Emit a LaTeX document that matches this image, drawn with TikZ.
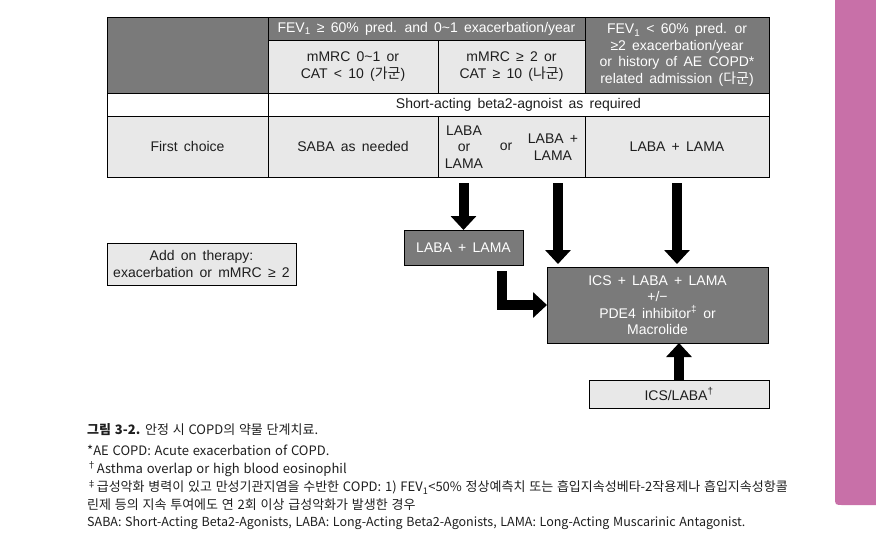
\documentclass[tikz,border=0pt]{standalone}
\usepackage{fontspec}
\setmainfont{Liberation Sans}[WordSpace=1.6]
\newfontfamily\kr{Noto Sans CJK KR}[WordSpace=1.3]
\usetikzlibrary{arrows.meta,calc,positioning}

\definecolor{cellgrey}{RGB}{122,122,122}
\definecolor{celllight}{RGB}{232,232,232}
\definecolor{sidebar}{RGB}{200,112,168}
\definecolor{textgrey}{RGB}{30,30,30}

\newcommand\tabfont{\fontsize{14}{16.5}\selectfont}
\newcommand\capfont{\kr\fontsize{13}{15}\selectfont}

\tikzset{
  cellbox/.style={draw=black, line width=0.9pt, inner sep=0pt, outer sep=0pt,
    align=center, anchor=north west, font=\tabfont},
  darkbox/.style={cellbox, fill=cellgrey, text=white},
  lightbox/.style={cellbox, fill=celllight, text=textgrey},
  whitebox/.style={cellbox, fill=white, text=textgrey},
  celltext/.style={inner sep=0pt, align=center, font=\tabfont, text=textgrey},
  bigarrow/.style={line width=10pt, -{Triangle[length=14pt,width=25pt]}},
  captext/.style={anchor=west, inner sep=0pt, font=\capfont, text=textgrey}
}

\begin{document}
\begin{tikzpicture}[x=1pt,y=-1pt]
\useasboundingbox (0,0) rectangle (876,558);

%Side bar
\fill[sidebar] (876,0) -- (835,0) -- (835,497) .. controls (835,505) .. (843,505) -- (876,505) -- cycle;

%Table columns and rows
\def\ca{107}
\def\cb{268}
\def\cc{438}
\def\cd{585}
\def\ra{17}
\def\rb{40}
\def\rc{93}
\def\rd{116}

%Header cells
\node[darkbox, minimum width=161pt, minimum height=76pt] (head) at (\ca,\ra) {};
\node[darkbox, minimum width=317pt, minimum height=23pt] (fevhi) at (\cb,\ra)
  {FEV\textsubscript{1} ≥ 60\% pred. and 0\textasciitilde1 exacerbation/year};
\node[darkbox, minimum width=184pt, minimum height=76pt] (fevlo) at (\cd,\ra)
  {FEV\textsubscript{1} < 60\% pred. or\\≥2 exacerbation/year\\or history of AE COPD*\\related admission ({\kr 다군})};
\node[lightbox, minimum width=170pt, minimum height=53pt] (grpa) at (\cb,\rb)
  {mMRC 0\textasciitilde1 or\\CAT < 10 ({\kr 가군})};
\node[lightbox, minimum width=147pt, minimum height=53pt] (grpb) at (\cc,\rb)
  {mMRC ≥ 2 or\\CAT ≥ 10 ({\kr 나군})};

%Rescue row
\node[whitebox, minimum width=161pt, minimum height=23pt] (blank) at (\ca,\rc) {};
\node[whitebox, minimum width=501pt, minimum height=23pt] (saba) at (\cb,\rc)
  {Short-acting beta2-agnoist as required};

%First choice row
\node[lightbox, minimum width=161pt, minimum height=61pt] (first) at (\ca,\rd) {First choice};
\node[lightbox, minimum width=170pt, minimum height=61pt] (ch2) at (\cb,\rd) {SABA as needed};
\node[lightbox, minimum width=147pt, minimum height=61pt] (ch3) at (\cc,\rd) {};
\node[lightbox, minimum width=184pt, minimum height=61pt] (ch4) at (\cd,\rd) {LABA + LAMA};
\node[celltext] (laorla) at (464,147) {LABA\\or\\LAMA};
\node[celltext] (orword) at (506,147) {or};
\node[celltext] (lpl) at (553,147) {LABA +\\LAMA};

%Lower boxes
\node[lightbox, minimum width=189pt, minimum height=42pt] (addon) at (107,243)
  {Add on therapy:\\exacerbation or mMRC ≥ 2};
\node[darkbox, minimum width=119pt, minimum height=35pt] (lam) at (404,230) {LABA + LAMA};
\node[darkbox, minimum width=221pt, minimum height=76pt] (ics) at (547,267)
  {ICS + LABA + LAMA\\+/−\\PDE4 inhibitor\textsuperscript{‡} or\\Macrolide};
\node[lightbox, minimum width=180pt, minimum height=28pt] (icsl) at (589,380)
  {ICS/LABA\textsuperscript{†}};

%Arrows
\draw[bigarrow] ($(lam.north |- ch3.south)+(0,6)$) -- (lam.north);
\draw[bigarrow] ($(lpl.south |- ch3.south)+(5,6)$) -- ($(lpl.south |- ics.north)+(5,-3)$);
\draw[bigarrow] ($(ch4.south)+(0,6)$) -- ($(ch4.south |- ics.north)+(0,-3)$);
\draw[bigarrow] ($(lam.south east)+(-21,6)$) |- (ics.west);
\draw[bigarrow] (icsl.north) -- (icsl.north |- ics.south);

%Caption
\node[captext] (cap1) at (87,430) {{\bfseries 그림 3-2.} 안정 시 COPD의 약물 단계치료.};
\node[captext] (cap2) at (87,450) {*AE COPD: Acute exacerbation of COPD.};
\node[captext] (cap3) at (87,469) {\textsuperscript{†}Asthma overlap or high blood eosinophil};
\node[captext] (cap4) at (87,487.5) {\textsuperscript{‡}급성악화 병력이 있고 만성기관지염을 수반한 COPD: 1) FEV\textsubscript{1}<50\% 정상예측치 또는 흡입지속성베타-2작용제나 흡입지속성항콜};
\node[captext] (cap5) at (87,505) {린제 등의 지속 투여에도 연 2회 이상 급성악화가 발생한 경우};
\node[captext, font=\kr\fontsize{12.5}{15}\selectfont] (cap6) at (87,523) {SABA: Short-Acting Beta2-Agonists, LABA: Long-Acting Beta2-Agonists, LAMA: Long-Acting Muscarinic Antagonist.};
\end{tikzpicture}
\end{document}
